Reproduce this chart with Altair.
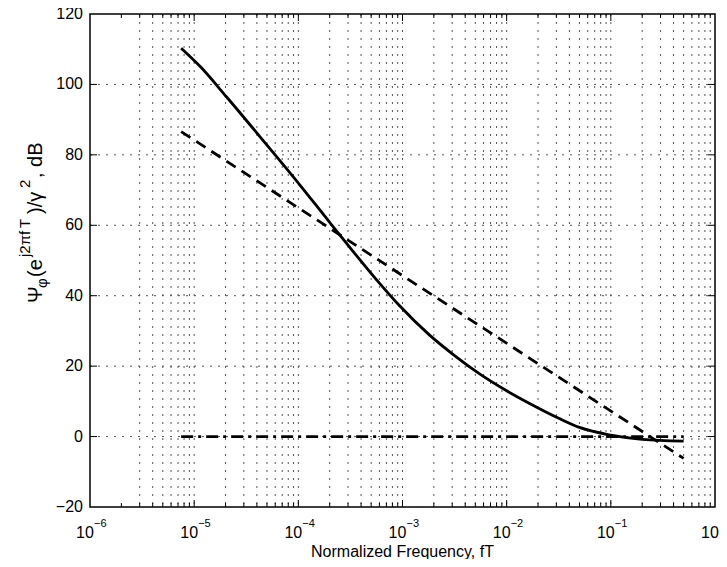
import altair as alt
import pandas as pd

FONT = "Liberation Sans"
W, H = 625, 493          # plot area
PAD_L, PAD_T = 82, 6

# ---- data ----
freq_solid = [7.5e-6, 1.15e-5, 2.04e-5, 4.27e-5, 1.0e-4, 1.86e-4, 2.88e-4, 6.03e-4,
              9.33e-4, 1.82e-3, 3.16e-3, 5.5e-3, 1.0e-2, 1.66e-2, 3.16e-2, 5.0e-2,
              1.0e-1, 2.0e-1, 5.0e-1]
psi_solid = [110.3, 105.0, 96.5, 85.2, 72.0, 62.0, 55.0, 43.5,
             37.2, 28.8, 23.0, 17.8, 13.0, 9.4, 5.2, 2.6,
             0.4, -0.8, -1.3]
freq_dashed = [7.5e-6, 0.5]
psi_dashed = [86.6, -6.2]
freq_dashdot = [7.5e-6, 0.5]
psi_dashdot = [0.0, 0.0]

x_tick_values = [1e-6, 1e-5, 1e-4, 1e-3, 1e-2, 1e-1, 1.0]
x_tick_exps = ["\u22126", "\u22125", "\u22124", "\u22123", "\u22122", "\u22121", "0"]
y_tick_values = [-20, 0, 20, 40, 60, 80, 100, 120]
y_tick_labels = ["\u221220", "0", "20", "40", "60", "80", "100", "120"]

minor_x = [k * 10.0 ** n for n in range(-6, 0) for k in range(2, 10)]
major_x = [10.0 ** n for n in range(-5, 0)]
grid_y = [0, 20, 40, 60, 80, 100]

# y-label pieces: text, baseline x (plot px), start y (page px, text runs upward), font size
ylab_text = ["\u03a8", "\u03c6", "(e", "j2\u03c0f", "T", ")/\u03b3", "2", ", dB"]
ylab_dx = [-48, -43, -48, -60, -60, -48, -60, -48]
ylab_start = [303, 288, 277, 257, 228, 214, 188, 178]
ylab_size = [20, 15, 20, 15, 15, 20, 15, 20]

xs = alt.Scale(type="log", domain=[1e-6, 1])
ys = alt.Scale(domain=[-20, 120])

df_solid = pd.DataFrame({"f": freq_solid, "psi": psi_solid})
df_dashed = pd.DataFrame({"f": freq_dashed, "psi": psi_dashed})
df_dashdot = pd.DataFrame({"f": freq_dashdot, "psi": psi_dashdot})
df_minor = pd.DataFrame({"f": minor_x})
df_major = pd.DataFrame({"f": major_x})
df_gridx = pd.DataFrame({"f": minor_x[1:] + major_x})
df_gridy = pd.DataFrame({"v": grid_y})
df_xt = pd.DataFrame({"f": x_tick_values, "e": x_tick_exps})
df_yt = pd.DataFrame({"v": y_tick_values, "lab": y_tick_labels})
df_one = pd.DataFrame({"a": [0]})
df_ylab = pd.DataFrame({
    "t": ylab_text,
    "px": ylab_dx,
    "py": [s - 8 - PAD_T for s in ylab_start],
    "fs": ylab_size,
})

X = lambda: alt.X("f:Q", scale=xs, axis=None)
Y = lambda: alt.Y("v:Q", scale=ys, axis=None)

grid_v = alt.Chart(df_gridx).mark_rule(color="#555", strokeWidth=1, strokeDash=[2, 6]).encode(
    x=X(), y=alt.value(0), y2=alt.value(H))
grid_h = alt.Chart(df_gridy).mark_rule(color="#555", strokeWidth=1, strokeDash=[2, 6]).encode(
    y=Y(), x=alt.value(0), x2=alt.value(W))

def vticks(df, length):
    b = alt.Chart(df).mark_rule(color="black", strokeWidth=1).encode(
        x=X(), y=alt.value(H), y2=alt.value(H - length))
    t = alt.Chart(df).mark_rule(color="black", strokeWidth=1).encode(
        x=X(), y=alt.value(0), y2=alt.value(length))
    return [b, t]

yt_df = pd.DataFrame({"v": y_tick_values[1:-1]})
yticks_l = alt.Chart(yt_df).mark_rule(color="black", strokeWidth=1).encode(
    y=Y(), x=alt.value(0), x2=alt.value(7))
yticks_r = alt.Chart(yt_df).mark_rule(color="black", strokeWidth=1).encode(
    y=Y(), x=alt.value(W - 7), x2=alt.value(W))

frame = alt.Chart(df_one).mark_rect(fill=None, stroke="black", strokeWidth=1.5).encode(
    x=alt.value(0), x2=alt.value(W), y=alt.value(0), y2=alt.value(H))

solid = alt.Chart(df_solid).mark_line(color="black", strokeWidth=2.8, interpolate="monotone").encode(
    x=X(), y=alt.Y("psi:Q", scale=ys, axis=None))
dashed = alt.Chart(df_dashed).mark_line(color="black", strokeWidth=2.8, strokeDash=[11, 7]).encode(
    x=X(), y=alt.Y("psi:Q", scale=ys, axis=None))
dashdot = alt.Chart(df_dashdot).mark_line(color="black", strokeWidth=2.8, strokeDash=[12, 5, 3, 5]).encode(
    x=X(), y=alt.Y("psi:Q", scale=ys, axis=None))

ylabels = alt.Chart(df_yt).mark_text(font=FONT, fontSize=16, align="right", baseline="middle", dx=-7).encode(
    y=Y(), x=alt.value(0), text="lab:N")
xten = alt.Chart(df_xt).mark_text(font=FONT, fontSize=16, align="center", baseline="alphabetic", dx=-5).encode(
    x=X(), y=alt.value(H + 31), text=alt.value("10"))
xexp = alt.Chart(df_xt).mark_text(font=FONT, fontSize=11, align="left", baseline="alphabetic", dx=4).encode(
    x=X(), y=alt.value(H + 20), text="e:N")
xtitle = alt.Chart(df_one).mark_text(font=FONT, fontSize=16, align="center", baseline="alphabetic").encode(
    x=alt.value(W / 2), y=alt.value(H + 50), text=alt.value("Normalized Frequency, fT"))
ytitle = alt.Chart(df_ylab).mark_text(font=FONT, angle=270, align="left", baseline="alphabetic").encode(
    x=alt.X("px:Q", scale=None), y=alt.Y("py:Q", scale=None), text="t:N",
    size=alt.Size("fs:Q", scale=None, legend=None))

layers = [grid_v, grid_h] + vticks(df_minor, 4) + vticks(df_major, 7) + [
    yticks_l, yticks_r, frame, dashdot, dashed, solid, ylabels, xten, xexp, xtitle, ytitle]

chart = alt.layer(*layers).properties(
    width=W, height=H,
    autosize=alt.AutoSizeParams(type="none"),
    padding={"left": PAD_L, "top": PAD_T, "right": 4, "bottom": 52},
).configure_view(stroke=None)

chart.save("out.html", embed_options={"renderer": "svg", "actions": False})
